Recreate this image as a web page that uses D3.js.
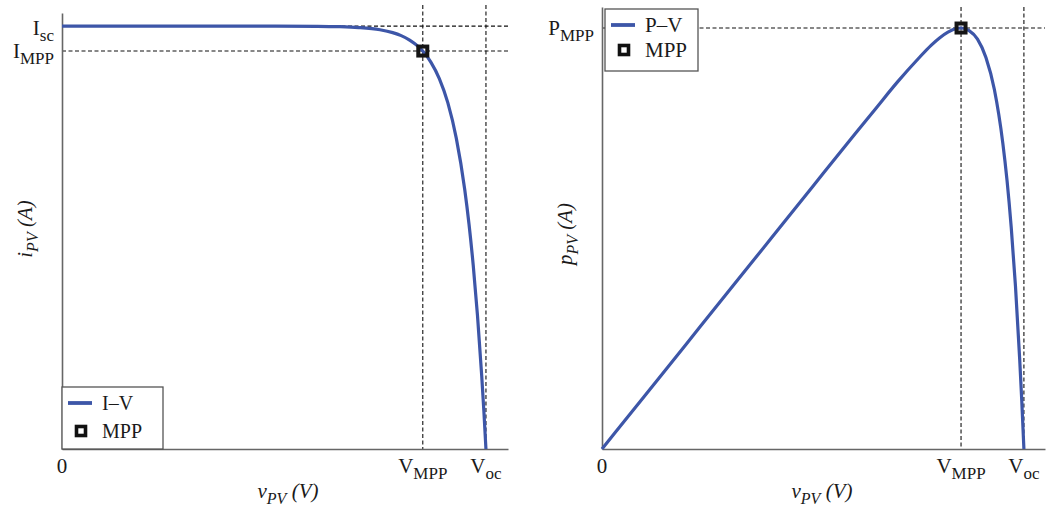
<!DOCTYPE html>
<html>
<head>
<meta charset="utf-8">
<script src="https://cdn.jsdelivr.net/npm/d3@7"></script>
<style>
  body { margin: 0; background: #fff; }
  svg text { font-family: "Liberation Serif", "DejaVu Serif", serif; fill: #1a1a1a; }
</style>
</head>
<body>
<svg id="chart" width="1049" height="517"></svg>
<script>
// values (normalised: Voc = 1, Isc = 1)
const voltage = [0, 0.1, 0.2, 0.3, 0.4, 0.5, 0.6, 0.65, 0.7, 0.75, 0.78, 0.8, 0.82, 0.84, 0.851,
                 0.87, 0.89, 0.91, 0.93, 0.95, 0.96, 0.97, 0.98, 0.99, 0.995, 1.0];
const current = [1, 1, 1, 1, 1, 1, 0.9995, 0.9987, 0.9966, 0.9913, 0.9846, 0.9775, 0.967, 0.952, 0.941,
                 0.915, 0.876, 0.819, 0.735, 0.613, 0.532, 0.434, 0.316, 0.173, 0.091, 0];
const power = [0, 0.1, 0.2, 0.3, 0.4, 0.5, 0.5997, 0.649, 0.698, 0.743, 0.768, 0.782, 0.793, 0.800, 0.801,
               0.796, 0.780, 0.745, 0.684, 0.582, 0.511, 0.421, 0.310, 0.171, 0.0905, 0];

const vMpp = 0.851, vOc = 1.0;
const iSc = 1.0, iMpp = 0.941;
const pMpp = 0.801;

const blue = "#3d56a8";
const svg = d3.select("#chart");

function dashed(g, x1, y1, x2, y2) {
    g.append("line")
        .attr("x1", x1).attr("y1", y1).attr("x2", x2).attr("y2", y2)
        .attr("stroke", "#111").attr("stroke-width", 1.1)
        .attr("stroke-dasharray", "4,2.5");
}

// label with a subscript
function subLabel(g, x, y, main, sub, anchor) {
    const t = g.append("text")
        .attr("x", x).attr("y", y)
        .attr("text-anchor", anchor)
        .style("font-size", "21px");
    t.append("tspan").text(main);
    t.append("tspan").attr("dy", 6).style("font-size", "17px").text(sub);
    return t;
}

function axisTitles(g, cx, ty, cy, first) {
    const xt = g.append("text").attr("x", cx).attr("y", 498)
        .attr("text-anchor", "middle").style("font-size", "21px").style("font-style", "italic");
    xt.append("tspan").text("v");
    xt.append("tspan").attr("dy", 6).style("font-size", "16px").text("PV");
    xt.append("tspan").attr("dy", -6).text(" (V)");

    const yt = g.append("text")
        .attr("transform", `translate(${ty},${cy}) rotate(-90)`)
        .attr("text-anchor", "middle").style("font-size", "21px").style("font-style", "italic");
    yt.append("tspan").text(first);
    yt.append("tspan").attr("dy", 6).style("font-size", "16px").text("PV");
    yt.append("tspan").attr("dy", -6).text(" (A)");
}

function legend(g, x0, y0, w, h, label, rowGap, size) {
    const lg = g.append("g").attr("transform", `translate(${x0},${y0})`);
    lg.append("rect").attr("width", w).attr("height", h)
        .attr("fill", "#fff").attr("stroke", "#555").attr("stroke-width", 1.3);
    const r1 = 16, r2 = r1 + rowGap;
    lg.append("line").attr("x1", 6).attr("x2", 30).attr("y1", r1).attr("y2", r1)
        .attr("stroke", blue).attr("stroke-width", 3.8);
    lg.append("text").attr("x", 40).attr("y", r1 + 7).style("font-size", size + "px").text(label);
    lg.append("rect").attr("x", 14.5).attr("y", r2 - 4.5).attr("width", 9).attr("height", 9)
        .attr("fill", "#fff").attr("stroke", "#111").attr("stroke-width", 3.6);
    lg.append("text").attr("x", 40).attr("y", r2 + 7).style("font-size", size + "px").text("MPP");
}

function mppMarker(g, x, y) {
    g.append("rect").attr("x", x - 4.5).attr("y", y - 4.5).attr("width", 9).attr("height", 9)
        .attr("fill", "none").attr("stroke", "#151515").attr("stroke-width", 4);
}

function axes(g, x, y) {
    g.append("g").attr("transform", `translate(0,${y(0)})`)
        .call(d3.axisBottom(x).tickValues([]).tickSizeOuter(0))
        .select(".domain").attr("stroke", "#666").attr("stroke-width", 1.6);
    g.append("g").attr("transform", `translate(${x(0)},0)`)
        .call(d3.axisLeft(y).tickValues([]).tickSizeOuter(0))
        .select(".domain").attr("stroke", "#666").attr("stroke-width", 1.6);
}

function curve(g, x, y, ys) {
    g.append("path").datum(voltage.map((v, i) => [v, ys[i]]))
        .attr("fill", "none").attr("stroke", blue).attr("stroke-width", 3.2)
        .attr("d", d3.line().x(d => x(d[0])).y(d => y(d[1])).curve(d3.curveMonotoneX));
}

function xLabels(g, x) {
    g.append("text").attr("x", x(0)).attr("y", 473).attr("text-anchor", "middle")
        .style("font-size", "21px").text("0");
    subLabel(g, x(vMpp), 473, "V", "MPP", "middle");
    subLabel(g, x(vOc), 473, "V", "oc", "middle");
}

// ---------- left: I-V ----------
{
    const x = d3.scaleLinear().domain([0, 1.052]).range([62, 508]);
    const y = d3.scaleLinear().domain([0, 1.031]).range([449, 13]);
    const g = svg.append("g");

    dashed(g, x(0), y(iSc), x(1.052), y(iSc));
    dashed(g, x(0), y(iMpp), x(1.052), y(iMpp));
    dashed(g, x(vMpp), 5, x(vMpp), y(0));
    dashed(g, x(vOc), 5, x(vOc), y(0));

    axes(g, x, y);
    curve(g, x, y, current);
    mppMarker(g, x(vMpp), y(iMpp));

    xLabels(g, x);
    subLabel(g, 54, y(iSc) + 9, "I", "sc", "end");
    subLabel(g, 54, y(iMpp) + 7, "I", "MPP", "end");

    axisTitles(g, 288, 32, 229, "i");
    legend(g, 62, 387, 101, 62, "I\u2013V", 28, 20);
}

// ---------- right: P-V ----------
{
    const x = d3.scaleLinear().domain([0, 1.05]).range([602, 1045]);
    const y = d3.scaleLinear().domain([0, 0.841]).range([449, 7]);
    const g = svg.append("g");

    dashed(g, x(0), y(pMpp), x(1.05), y(pMpp));
    dashed(g, x(vMpp), 7, x(vMpp), y(0));
    dashed(g, x(vOc), 7, x(vOc), y(0));

    axes(g, x, y);
    curve(g, x, y, power);
    mppMarker(g, x(vMpp), y(pMpp));

    xLabels(g, x);
    subLabel(g, 594, y(pMpp) + 7, "P", "MPP", "end");

    axisTitles(g, 822, 572, 234, "p");
    legend(g, 605, 9, 93, 62, "P\u2013V", 25, 21);
}
</script>
</body>
</html>
